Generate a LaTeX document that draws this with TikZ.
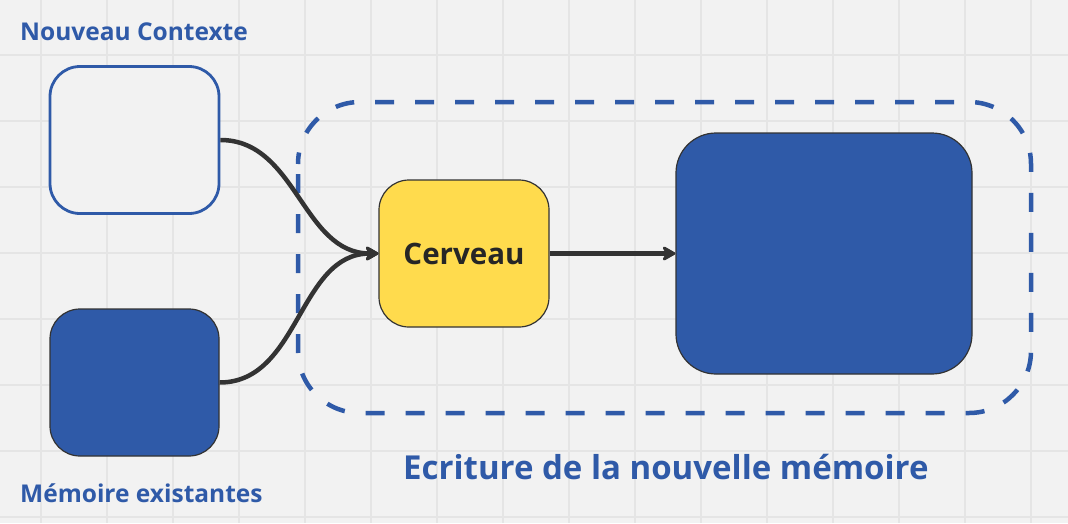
\documentclass[tikz,border=0pt]{standalone}
\usepackage{fontspec}
\setmainfont{Open Sans}
\usetikzlibrary{arrows.meta}
\definecolor{bg}{HTML}{F2F2F2}
\definecolor{gridc}{HTML}{E5E5E5}
\definecolor{myblue}{HTML}{2F5AA8}
\definecolor{myyellow}{HTML}{FFDB4D}
\definecolor{edge}{HTML}{333333}
\tikzset{
  outlinebox/.style={draw=myblue,line width=2.8pt,fill=bg,rounded corners=30pt,inner sep=0pt},
  bluebox/.style={draw=edge,line width=1.2pt,fill=myblue,rounded corners=30pt,inner sep=0pt},
  yellowbox/.style={draw=edge,line width=1.2pt,fill=myyellow,rounded corners=30pt,inner sep=0pt,font=\bfseries\fontsize{29.5}{34}\selectfont,text=black!85},
  label/.style={font=\bfseries\fontsize{24.5}{29}\selectfont,text=myblue,anchor=west,inner sep=0pt},
  conn/.style={draw=edge,line width=4.5pt,-{Stealth[length=16pt,width=18pt,inset=5pt,round]}},
}
\begin{document}
\begin{tikzpicture}[x=1pt,y=-1pt]
\fill[bg] (0,0) rectangle (1068,523);
\useasboundingbox (0,0) rectangle (1068,523);
\foreach \gx in {41,107,...,1068} \draw[gridc,line width=1.8pt] (\gx,0) -- (\gx,523);
\foreach \gy in {55,121,...,523} \draw[gridc,line width=1.8pt] (0,\gy) -- (1068,\gy);
% dashed group
\draw[myblue,line width=4.5pt,dash pattern=on 19pt off 21pt,dash phase=-10pt,rounded corners=62pt] (298,102) rectangle (1031,413);
% nodes
\node[outlinebox,minimum width=169pt,minimum height=147pt] (ctx) at (134.5,140) {};
\node[bluebox,minimum width=169pt,minimum height=147pt] (mem) at (134.5,382.5) {};
\node[yellowbox,minimum width=170pt,minimum height=147pt] (cer) at (464,253.5) {Cerveau};
\node[bluebox,rounded corners=40pt,minimum width=296pt,minimum height=241pt] (big) at (824,253.5) {};
% labels
\node[label] (lctx) at (20,32) {Nouveau Contexte};
\node[label] (lmem) at (20,493) {Mémoire existantes};
\node[label,font=\bfseries\fontsize{33}{39}\selectfont] (lecr) at (403,467) {Ecriture de la nouvelle mémoire};
% connectors
\draw[conn] (ctx.east) to[out=0,in=180] (cer.west);
\draw[conn] (mem.east) to[out=0,in=180] (cer.west);
\draw[conn] (cer.east) -- (big.west);
\end{tikzpicture}
\end{document}
